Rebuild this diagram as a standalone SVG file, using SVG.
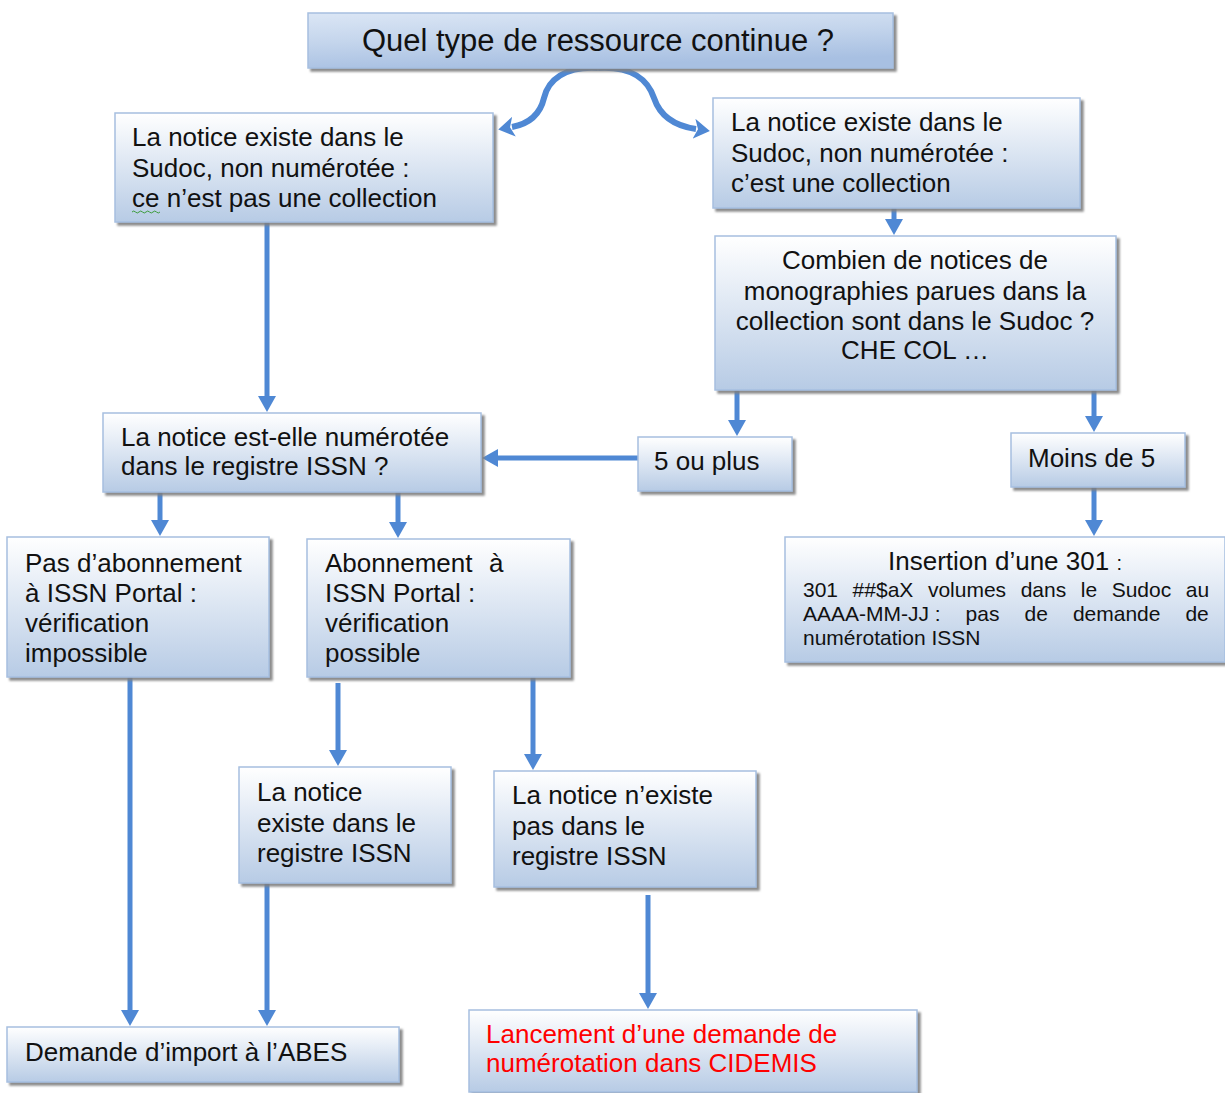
<svg xmlns="http://www.w3.org/2000/svg" width="1225" height="1093" viewBox="0 0 1225 1093">
<style>
.box{fill:url(#g);stroke:#a6bfe0;stroke-width:1.5;filter:url(#sh)}
.title{fill:url(#gt);stroke:#a6bfe0;stroke-width:1.5;filter:url(#sh)}
.t{font-family:"Liberation Sans",Arial,sans-serif;font-size:26px;fill:#111}
.s{font-size:21px}
.red{fill:#ff0000}
.c{stroke:#4f88d4;stroke-width:5;fill:none;marker-end:url(#ah)}
.cv{stroke:#4f88d4;stroke-width:6;fill:none;marker-end:url(#ah2)}
</style>
<defs>
<linearGradient id="g" x1="0" y1="0" x2="0" y2="1">
<stop offset="0" stop-color="#ffffff"/>
<stop offset="1" stop-color="#b7cbe5"/>
</linearGradient>
<linearGradient id="gt" x1="0" y1="0" x2="0.3" y2="1">
<stop offset="0" stop-color="#dbe6f5"/>
<stop offset="0.5" stop-color="#c4d5ec"/>
<stop offset="1" stop-color="#a8c0e2"/>
</linearGradient>
<filter id="sh" x="-5%" y="-10%" width="115%" height="130%">
<feDropShadow dx="3" dy="3" stdDeviation="1" flood-color="#7f7f7f" flood-opacity="0.9"/>
</filter>
<marker id="ah" viewBox="0 0 16 18" markerWidth="16" markerHeight="18" refX="1" refY="9" orient="auto" markerUnits="userSpaceOnUse">
<path d="M0,0 L16,9 L0,18 z" fill="#4f88d4"/>
</marker>
<marker id="ah2" viewBox="0 0 16 20" markerWidth="16" markerHeight="20" refX="2" refY="10" orient="auto" markerUnits="userSpaceOnUse">
<path d="M0,0 L16,10 L0,20 L4,10 z" fill="#4f88d4"/>
</marker>
</defs>

<g id="connectors">
<path class="cv" d="M598 68 C565 66 548 80 544 98 C540 115 528 124 512 127"/>
<path class="cv" d="M598 68 C632 66 648 80 654 98 C660 116 675 126 696 129"/>
<line class="c" x1="894" y1="208" x2="894" y2="220"/>
<line class="c" x1="267" y1="222" x2="267" y2="397"/>
<line class="c" x1="737" y1="390" x2="737" y2="421"/>
<line class="c" x1="1094" y1="390" x2="1094" y2="417"/>
<line class="c" x1="638" y1="458" x2="497" y2="458"/>
<line class="c" x1="1094" y1="487" x2="1094" y2="521"/>
<line class="c" x1="160" y1="492" x2="160" y2="521"/>
<line class="c" x1="398" y1="492" x2="398" y2="523"/>
<line class="c" x1="130" y1="677" x2="130" y2="1011"/>
<line class="c" x1="338" y1="683" x2="338" y2="751"/>
<line class="c" x1="533" y1="677" x2="533" y2="755"/>
<line class="c" x1="267" y1="883" x2="267" y2="1011"/>
<line class="c" x1="648" y1="895" x2="648" y2="994"/>
</g>

<g id="title">
<rect class="title" x="308" y="13" width="585" height="55"/>
<text class="t" x="598" y="51" text-anchor="middle" style="font-size:31px">Quel type de ressource continue ?</text>
</g>

<g id="n-pas-collection">
<rect class="box" x="115" y="113" width="378" height="109"/>
<text class="t"><tspan x="132" y="146">La notice existe dans le</tspan><tspan x="132" y="177">Sudoc, non numérotée :</tspan><tspan x="132" y="207">ce n’est pas une collection</tspan></text>
<path d="M132 212 q1.75 -2 3.5 0 t3.5 0 t3.5 0 t3.5 0 t3.5 0 t3.5 0 t3.5 0 t3.5 0" fill="none" stroke="#3c9c3c" stroke-width="1"/>
</g>

<g id="n-collection">
<rect class="box" x="713" y="98" width="367" height="110"/>
<text class="t"><tspan x="731" y="131">La notice existe dans le</tspan><tspan x="731" y="162">Sudoc, non numérotée :</tspan><tspan x="731" y="192">c’est une collection</tspan></text>
</g>

<g id="n-combien">
<rect class="box" x="715" y="236" width="401" height="154"/>
<text class="t" text-anchor="middle"><tspan x="915" y="269">Combien de notices de</tspan><tspan x="915" y="300">monographies parues dans la</tspan><tspan x="915" y="330">collection sont dans le Sudoc ?</tspan><tspan x="915" y="359">CHE COL …</tspan></text>
</g>

<g id="n-numerotee">
<rect class="box" x="103" y="413" width="378" height="79"/>
<text class="t"><tspan x="121" y="446">La notice est-elle numérotée</tspan><tspan x="121" y="475">dans le registre ISSN ?</tspan></text>
</g>

<g id="n-5plus">
<rect class="box" x="638" y="437" width="154" height="54"/>
<text class="t" x="654" y="470">5 ou plus</text>
</g>

<g id="n-moins5">
<rect class="box" x="1011" y="433" width="174" height="54"/>
<text class="t" x="1028" y="467">Moins de 5</text>
</g>

<g id="n-insertion">
<rect class="box" x="785" y="537" width="440" height="125"/>
<text class="t" x="1005" y="570" text-anchor="middle">Insertion d’une 301 <tspan style="font-size:20px">:</tspan></text>
<text class="t s"><tspan x="803" y="597">301</tspan><tspan x="852.6" y="597">##$aX</tspan><tspan x="927.9" y="597">volumes</tspan><tspan x="1020.7" y="597">dans</tspan><tspan x="1080.8" y="597">le</tspan><tspan x="1111.7" y="597">Sudoc</tspan><tspan x="1185.8" y="597">au</tspan></text>
<text class="t s"><tspan x="803" y="621">AAAA-MM-JJ :</tspan><tspan x="965.6" y="621">pas</tspan><tspan x="1024.5" y="621">de</tspan><tspan x="1072.9" y="621">demande</tspan><tspan x="1185.4" y="621">de</tspan></text>
<text class="t s" x="803" y="645">numérotation ISSN</text>
</g>

<g id="n-pas-abonnement">
<rect class="box" x="7" y="537" width="262" height="140"/>
<text class="t"><tspan x="25" y="572">Pas d’abonnement</tspan><tspan x="25" y="602">à ISSN Portal :</tspan><tspan x="25" y="632">vérification</tspan><tspan x="25" y="662">impossible</tspan></text>
</g>

<g id="n-abonnement">
<rect class="box" x="307" y="539" width="263" height="138"/>
<text class="t"><tspan x="325" y="572">Abonnement</tspan><tspan x="489" y="572">à</tspan><tspan x="325" y="602">ISSN Portal :</tspan><tspan x="325" y="632">vérification</tspan><tspan x="325" y="662">possible</tspan></text>
</g>

<g id="n-existe-issn">
<rect class="box" x="239" y="767" width="212" height="116"/>
<text class="t"><tspan x="257" y="801">La notice</tspan><tspan x="257" y="832">existe dans le</tspan><tspan x="257" y="862">registre ISSN</tspan></text>
</g>

<g id="n-existe-pas-issn">
<rect class="box" x="494" y="771" width="262" height="116"/>
<text class="t"><tspan x="512" y="804">La notice n’existe</tspan><tspan x="512" y="835">pas dans le</tspan><tspan x="512" y="865">registre ISSN</tspan></text>
</g>

<g id="n-import">
<rect class="box" x="7" y="1027" width="392" height="55"/>
<text class="t" x="25" y="1061">Demande d’import à l’ABES</text>
</g>

<g id="n-cidemis">
<rect class="box" x="469" y="1010" width="448" height="82"/>
<text class="t red"><tspan x="486" y="1043">Lancement d’une demande de</tspan><tspan x="486" y="1072">numérotation dans CIDEMIS</tspan></text>
</g>
</svg>
